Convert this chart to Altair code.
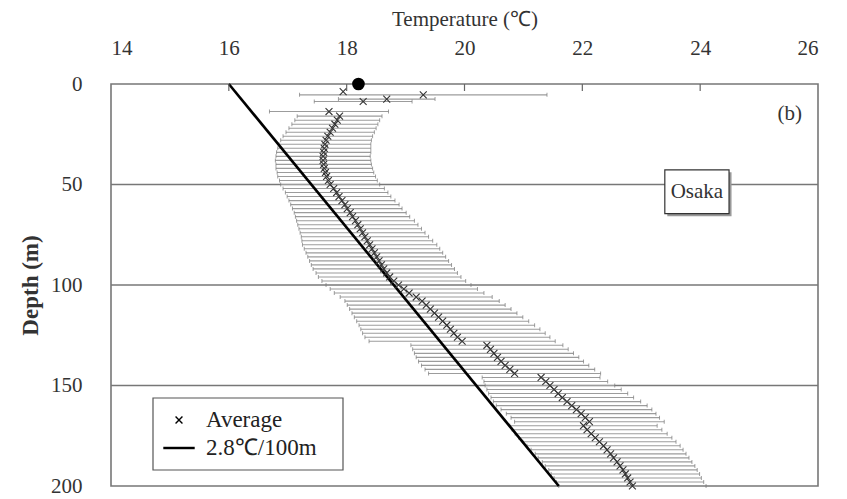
import altair as alt
import pandas as pd

# ---- data ----
depth = [3.8, 5.4, 7.5, 8.7, 13.7,
         16, 18, 20, 22, 24, 26, 28, 30, 32, 34, 36, 38, 40, 42, 44, 46, 48, 50,
         52, 54, 56, 58, 60, 62, 64, 66, 68, 70, 72, 74, 76, 78, 80, 82, 84, 86,
         88, 90, 92, 94, 96, 98, 100, 102, 104, 106, 108, 110, 112, 114, 116,
         118, 120, 122, 124, 126, 128, 130, 132, 134, 136, 138, 140, 142, 144,
         146, 148, 150, 152, 154, 156, 158, 160, 162, 164, 166, 168, 170, 172,
         174, 176, 178, 180, 182, 184, 186, 188, 190, 192, 194, 196, 198, 200]
mean = [17.94, 19.30, 18.68, 18.28, 17.70,
        17.88, 17.84, 17.80, 17.76, 17.72, 17.68, 17.65, 17.63, 17.62, 17.61,
        17.60, 17.60, 17.61, 17.62, 17.64, 17.66, 17.69, 17.72,
        17.78, 17.83, 17.87, 17.92, 17.97, 18.01, 18.06, 18.10, 18.15, 18.19,
        18.23, 18.27, 18.31, 18.35, 18.39, 18.43, 18.47, 18.51,
        18.55, 18.59, 18.63, 18.68, 18.73, 18.80, 18.88, 18.97, 19.06, 19.18,
        19.28, 19.35, 19.42, 19.49, 19.56,
        19.63, 19.70, 19.76, 19.82, 19.88, 19.96, 20.38, 20.44, 20.50, 20.56,
        20.62, 20.69, 20.77, 20.85,
        21.30, 21.38, 21.45, 21.52, 21.59, 21.66, 21.74, 21.82, 21.90, 21.98,
        22.05, 22.12, 22.02, 22.08,
        22.15, 22.22, 22.29, 22.36, 22.42, 22.48, 22.53, 22.59, 22.64, 22.69,
        22.73, 22.77, 22.81, 22.85]
sd = [0.0, 2.10, 0.82, 0.83, 1.01,
      0.72, 0.72, 0.73, 0.74, 0.75, 0.76, 0.77, 0.78, 0.79, 0.80, 0.80, 0.81,
      0.81, 0.82, 0.82, 0.83, 0.83, 0.84,
      0.86, 0.87, 0.88, 0.90, 0.92, 0.93, 0.95, 0.97, 1.00, 1.02, 1.04, 1.06,
      1.08, 1.11, 1.14, 1.15, 1.16, 1.17,
      1.18, 1.19, 1.20, 1.20, 1.21, 1.22, 1.23, 1.25, 1.27, 1.29, 1.31, 1.34,
      1.37, 1.40, 1.43,
      1.46, 1.49, 1.52, 1.55, 1.57, 1.58, 1.29, 1.32, 1.35, 1.38, 1.40, 1.42,
      1.44, 1.46,
      1.00, 1.05, 1.10, 1.14, 1.18, 1.21, 1.25, 1.28, 1.28, 1.27, 1.26, 1.27,
      1.25, 1.27,
      1.29, 1.30, 1.30, 1.30, 1.29, 1.28, 1.28, 1.27, 1.27, 1.26, 1.26, 1.25,
      1.25, 1.25]

grad_temp = [16.0, 21.6]       # 2.8 C / 100 m
grad_depth = [0, 200]
surface_temp = [18.2]
surface_depth = [0]
grid_depths = [50, 100, 150]
x_ticks = [14, 16, 18, 20, 22, 24, 26]
y_ticks = [0, 50, 100, 150, 200]
inner_ticks = [16, 18, 20, 22, 24]
series_names = ["Average", "2.8\u2103/100m"]
label_b = {"t": [25.52], "d": [15], "text": ["(b)"]}
osaka = {"t1": [23.40], "t2": [24.49], "d1": [42.7], "d2": [64.5],
         "t": [23.945], "d": [53.8], "text": ["Osaka"]}

W, H = 707, 402
SERIF = "Liberation Serif"

df = pd.DataFrame({"depth": depth, "mean": mean, "sd": sd})
df["lo"] = df["mean"] - df["sd"]
df["hi"] = df["mean"] + df["sd"]
df["series"] = series_names[0]
bars_df = df[df["sd"] > 0]

xs = alt.Scale(domain=[14, 26], nice=False, zero=False)
ys = alt.Scale(domain=[0, 200], nice=False, reverse=True)

x_axis = alt.Axis(orient="top", values=x_ticks, format="d", title="Temperature (\u2103)",
                  labelFont=SERIF, labelFontSize=21, labelColor="#333",
                  labelPadding=26, titleFont=SERIF, titleFontSize=21,
                  titleFontWeight="normal", titleColor="#333", titlePadding=8,
                  ticks=False, domain=False, grid=False)
y_axis = alt.Axis(values=y_ticks, title="Depth (m)",
                  labelFont=SERIF, labelFontSize=21, labelColor="#333",
                  labelPadding=29, titleFont=SERIF, titleFontSize=23,
                  titleFontWeight="bold", titleColor="#333", titlePadding=8,
                  ticks=False, domain=False, grid=False)

grid = alt.Chart(pd.DataFrame({"d": grid_depths})).mark_rule(
    color="#777", strokeWidth=1.6).encode(y=alt.Y("d:Q", scale=ys, axis=y_axis))

base = alt.Chart(bars_df)
bars = base.mark_rule(color="#9c9c9c", strokeWidth=1.1).encode(
    x=alt.X("lo:Q", scale=xs, axis=x_axis), x2="hi:Q",
    y=alt.Y("depth:Q", scale=ys))
cap_lo = base.mark_tick(orient="vertical", size=4, thickness=1, color="#777").encode(
    x=alt.X("lo:Q", scale=xs), y=alt.Y("depth:Q", scale=ys))
cap_hi = base.mark_tick(orient="vertical", size=4, thickness=1, color="#777").encode(
    x=alt.X("hi:Q", scale=xs), y=alt.Y("depth:Q", scale=ys))

trend = alt.Chart(pd.DataFrame({"t": grad_temp, "d": grad_depth})).mark_line(
    color="black", strokeWidth=2.6).encode(
    x=alt.X("t:Q", scale=xs), y=alt.Y("d:Q", scale=ys), order="d:Q")

# legend frame (decoration, pixel placement inside the plot)
legend_box = alt.Chart(pd.DataFrame({"k": [0]})).mark_rect(
    fill="white", stroke="#555", strokeWidth=1.2).encode(
    x=alt.value(42), x2=alt.value(232), y=alt.value(314), y2=alt.value(386))

x_path = "M-0.23,-0.23L0.23,0.23M0.23,-0.23L-0.23,0.23"
line_path = "M-1,-0.035H1V0.035H-1Z"
points = alt.Chart(df).mark_point(filled=False, size=900, strokeWidth=1.1,
                                  color="#333", opacity=1).encode(
    x=alt.X("mean:Q", scale=xs), y=alt.Y("depth:Q", scale=ys),
    shape=alt.Shape("series:N",
                    scale=alt.Scale(domain=series_names, range=[x_path, line_path]),
                    legend=alt.Legend(orient="none", legendX=46, legendY=314,
                                      title=None, padding=6,
                                      labelFont=SERIF, labelFontSize=23,
                                      labelColor="#222", labelOffset=11,
                                      symbolSize=900, symbolStrokeWidth=1.4,
                                      symbolStrokeColor="black",
                                      rowPadding=0, labelLimit=300)))

dot = alt.Chart(pd.DataFrame({"t": surface_temp, "d": surface_depth})).mark_circle(
    size=160, color="black", opacity=1, clip=False).encode(
    x=alt.X("t:Q", scale=xs), y=alt.Y("d:Q", scale=ys))

inner = alt.Chart(pd.DataFrame({"t": inner_ticks})).mark_rule(
    color="#666", strokeWidth=1.2).encode(
    x=alt.X("t:Q", scale=xs), y=alt.value(0), y2=alt.value(7))

btxt = alt.Chart(pd.DataFrame(label_b)).mark_text(
    font=SERIF, fontSize=21, color="#333").encode(
    x=alt.X("t:Q", scale=xs), y=alt.Y("d:Q", scale=ys), text="text:N")

odf = pd.DataFrame(osaka)
oshadow = alt.Chart(odf).mark_rect(fill="#999", xOffset=2.5, yOffset=2.5,
                                   x2Offset=2.5, y2Offset=2.5).encode(
    x=alt.X("t1:Q", scale=xs), x2="t2:Q", y=alt.Y("d1:Q", scale=ys), y2="d2:Q")
obox = alt.Chart(odf).mark_rect(fill="white", stroke="#333", strokeWidth=1.2).encode(
    x=alt.X("t1:Q", scale=xs), x2="t2:Q", y=alt.Y("d1:Q", scale=ys), y2="d2:Q")
otxt = alt.Chart(odf).mark_text(font=SERIF, fontSize=21, color="#333").encode(
    x=alt.X("t:Q", scale=xs), y=alt.Y("d:Q", scale=ys), text="text:N")

chart = alt.layer(grid, bars, cap_lo, cap_hi, trend, legend_box, points, dot, inner,
                  btxt, oshadow, obox, otxt).properties(
    width=W, height=H,
    autosize=alt.AutoSizeParams(type="none"),
    padding={"left": 111, "top": 84, "right": 29, "bottom": 13},
    background="white",
).configure_view(stroke="#777", strokeWidth=1.6)

chart.save("out.html", embed_options={"renderer": "svg", "actions": False})
